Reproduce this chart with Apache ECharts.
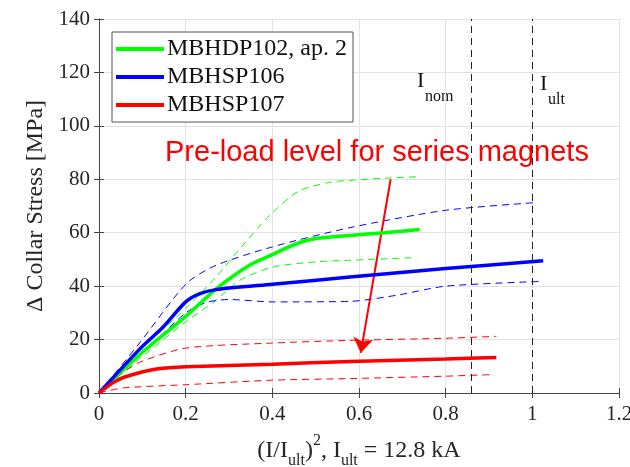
<!DOCTYPE html>
<html>
<head>
<meta charset="utf-8"/>
<title>Collar stress vs (I/Iult)^2</title>
<script src="https://cdn.jsdelivr.net/npm/echarts@6/dist/echarts.min.js"></script>
<style>
    html, body { margin: 0; padding: 0; background: #fff; }
    #main { width: 630px; height: 467px; }
</style>
</head>
<body>
<div id="main"></div>
<script>
    // --- data: [ (I/Iult)^2 , delta stress MPa ] ---
    var hdp102 = [[0, 0], [0.095, 14.5], [0.2, 28.7], [0.27, 38.9], [0.348, 47.9], [0.4, 51.8], [0.45, 55.5], [0.5, 57.8], [0.579, 59], [0.66, 60], [0.74, 61.2]];
    var hdp102Hi = [[0, 0], [0.095, 16], [0.2, 31.6], [0.27, 43.4], [0.33, 55], [0.394, 66.5], [0.46, 75.5], [0.53, 78.8], [0.579, 79.6], [0.66, 80.4], [0.74, 81]];
    var hdp102Lo = [[0, 0], [0.095, 13], [0.2, 26.6], [0.27, 34.7], [0.325, 42.2], [0.402, 47.2], [0.502, 49.1], [0.579, 49.7], [0.733, 50.7]];

    var hsp106 = [[0, 0], [0.095, 16.6], [0.148, 24.7], [0.2, 34.1], [0.233, 37.2], [0.27, 38.7], [0.4, 40.7], [0.579, 43.4], [0.8, 46.6], [1.025, 49.5]];
    var hsp106Hi = [[0, 0], [0.095, 19], [0.202, 41], [0.27, 47.8], [0.4, 54.7], [0.579, 61.9], [0.8, 68.4], [1.01, 71.3]];
    var hsp106Lo = [[0, 0], [0.095, 14], [0.2, 30], [0.25, 34], [0.3, 35], [0.4, 34.1], [0.579, 34.3], [0.687, 36.6], [0.8, 40], [1.025, 41.8]];

    var hsp107 = [[0, 0], [0.03, 3.6], [0.056, 5.8], [0.095, 7.7], [0.133, 9.0], [0.2, 9.8], [0.4, 10.8], [0.579, 11.8], [0.8, 12.7], [0.917, 13.3]];
    var hsp107Hi = [[0, 0], [0.05, 7], [0.095, 11.6], [0.2, 16.8], [0.4, 18.7], [0.579, 19.7], [0.8, 20.5], [0.917, 21.2]];
    var hsp107Lo = [[0, 0], [0.056, 1.9], [0.2, 3.1], [0.4, 4.8], [0.579, 5.4], [0.8, 6.3], [0.91, 6.9]];

    var names = ['MBHDP102, ap. 2', 'MBHSP106', 'MBHSP107'];
    var currentMarks = [0.857, 1.0];          // I_nom, I_ult
    var arrowFrom = [0.673, 80];
    var arrowTo = [0.604, 15];

    var serif = '"Liberation Serif", "Times New Roman", serif';

    function solid(name, data, color) {
        return {
            name: name, type: 'line', data: data, smooth: 0.25, showSymbol: false,
            lineStyle: {color: color, width: 3.5}, itemStyle: {color: color}, z: 5
        };
    }

    function dashed(data, color) {
        return {
            type: 'line', data: data, smooth: 0.25, showSymbol: false, silent: true,
            lineStyle: {color: color, width: 1, type: [7, 5]}, itemStyle: {color: color}, z: 3
        };
    }

    var series = [
        dashed(hdp102Hi, '#00ff00'), dashed(hdp102Lo, '#00ff00'),
        dashed(hsp106Hi, '#0000ff'), dashed(hsp106Lo, '#0000ff'),
        dashed(hsp107Hi, '#ff0000'), dashed(hsp107Lo, '#ff0000'),
        solid(names[0], hdp102, '#00ff00'),
        solid(names[1], hsp106, '#0000ff'),
        solid(names[2], hsp107, '#ff0000')
    ];

    // vertical current markers
    series[0].markLine = {
        silent: true, symbol: 'none', label: {show: false},
        lineStyle: {color: '#222', width: 1, type: [7, 5]},
        data: currentMarks.map(function (v) { return {xAxis: v}; })
    };
    // the pre-load arrow
    series[8].markLine = {
        silent: true, label: {show: false}, symbol: ['none', 'arrow'], symbolSize: 15,
        lineStyle: {color: '#ff0000', width: 2, type: 'solid'},
        data: [[{coord: arrowFrom}, {coord: arrowTo}]]
    };

    var tickLabel = {fontFamily: serif, fontSize: 21, color: '#262626'};
    var axisLine = {show: true, lineStyle: {color: '#444', width: 1}};
    var axisTick = {show: true, inside: true, length: 5, lineStyle: {color: '#444'}};

    var myChart = echarts.init(document.getElementById('main'), null, {renderer: 'canvas'});
    var option = {
        animation: false,
        grid: {left: 99, right: 11, top: 19, bottom: 74, containLabel: false, outerBoundsMode: 'none'},
        legend: {
            data: names.map(function (n) { return {name: n, icon: 'rect'}; }),
            orient: 'vertical', left: 112, top: 32,
            itemWidth: 48, itemHeight: 4, itemGap: 4,
            padding: [5, 6, 5, 4],
            backgroundColor: '#fff', borderColor: '#555', borderWidth: 1,
            textStyle: {fontFamily: serif, fontSize: 24, color: '#111', padding: [0, 0, 0, -2]}
        },
        xAxis: [{
            type: 'value', min: 0, max: 1.2, interval: 0.2,
            axisLine: axisLine, axisTick: axisTick,
            axisLabel: Object.assign({margin: 11}, tickLabel),
            splitLine: {show: true, lineStyle: {color: '#e3e3e3'}},
            name: '{n|(I/I}{s|ult}{n|)}{p|2}{n|, I}{s|ult}{n| = 12.8 kA}',
            nameLocation: 'middle', nameGap: 40,
            nameTextStyle: {
                rich: {
                    n: {fontFamily: serif, fontSize: 24, color: '#262626', lineHeight: 36, verticalAlign: 'middle'},
                    s: {fontFamily: serif, fontSize: 16, color: '#262626', lineHeight: 36, verticalAlign: 'bottom'},
                    p: {fontFamily: serif, fontSize: 16, color: '#262626', lineHeight: 36, verticalAlign: 'top'}
                }
            }
        }, {
            type: 'value', position: 'top', min: 0, max: 1.2, interval: 0.2,
            axisLine: axisLine, axisTick: axisTick, axisLabel: {show: false}, splitLine: {show: false}
        }],
        yAxis: [{
            type: 'value', min: 0, max: 140, interval: 20,
            axisLine: axisLine, axisTick: axisTick,
            axisLabel: Object.assign({margin: 9}, tickLabel),
            splitLine: {show: true, lineStyle: {color: '#e3e3e3'}},
            name: 'Δ Collar Stress [MPa]', nameLocation: 'middle', nameGap: 49,
            nameTextStyle: {fontFamily: serif, fontSize: 24, color: '#262626'}
        }, {
            type: 'value', position: 'right', min: 0, max: 140, interval: 20,
            axisLine: axisLine, axisTick: axisTick, axisLabel: {show: false}, splitLine: {show: false}
        }],
        graphic: [
            {type: 'text', x: 165, y: 153, z: 10, silent: true,
                style: {text: 'Pre-load level for series magnets', fill: '#ff0000',
                    font: '29px "Liberation Sans", Arial, sans-serif', verticalAlign: 'middle'}},
            {type: 'text', x: 417, y: 81, silent: true,
                style: {text: 'I', fill: '#111', font: '22px ' + serif, verticalAlign: 'middle'}},
            {type: 'text', x: 425, y: 97, silent: true,
                style: {text: 'nom', fill: '#111', font: '16px ' + serif, verticalAlign: 'middle'}},
            {type: 'text', x: 540, y: 84, silent: true,
                style: {text: 'I', fill: '#111', font: '22px ' + serif, verticalAlign: 'middle'}},
            {type: 'text', x: 548, y: 100, silent: true,
                style: {text: 'ult', fill: '#111', font: '16px ' + serif, verticalAlign: 'middle'}}
        ],
        series: series
    };
    myChart.setOption(option);

    window.onresize = function () {
        myChart.resize();
    };
</script>
</body>
</html>
